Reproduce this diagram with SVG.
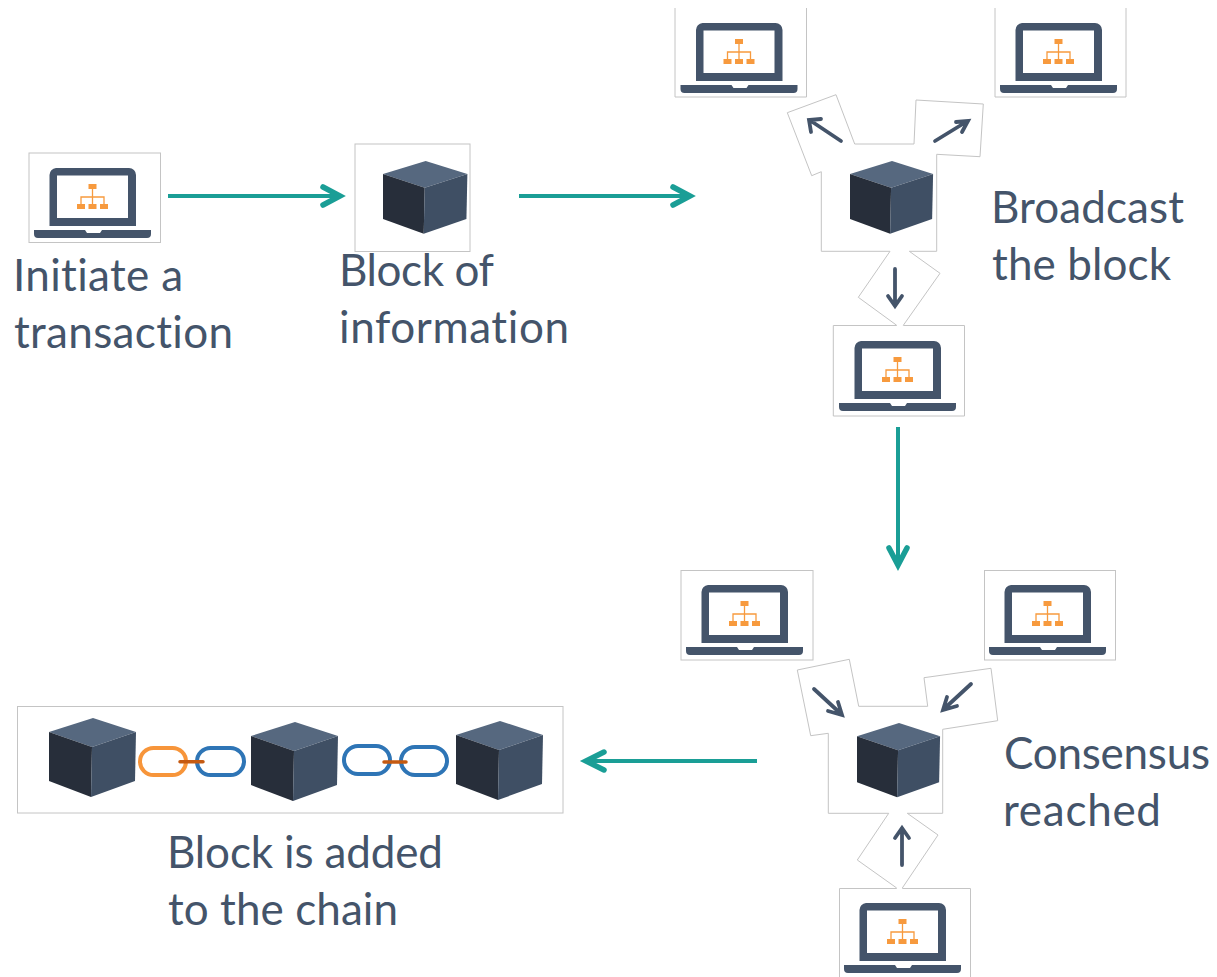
<svg xmlns="http://www.w3.org/2000/svg" xmlns:xlink="http://www.w3.org/1999/xlink" width="1217" height="977" viewBox="0 0 1217 977">
<style>
.frame{fill:none;stroke:#c4c4c4;stroke-width:1}
.flow{fill:none;stroke:#1a9e96;stroke-width:4}
.head{fill:none;stroke:#1a9e96;stroke-width:5.500;stroke-linecap:round;stroke-linejoin:miter}
.mini{fill:none;stroke:#44546a;stroke-width:3.800;stroke-linecap:round;stroke-linejoin:miter}
.lbl{font-family:"Lato","Open Sans",sans-serif;font-size:44px;font-variant-ligatures:none;fill:#44546a}
.link{fill:none;stroke-width:4}
</style>
<defs>
<g id="laptop">
<path d="M27 15H100a7 7 0 0 1 7 7V73H20.500V22a7 7 0 0 1 6.500-7ZM28 22.500V65H99V22.500Z" fill="#44546a" fill-rule="evenodd"/>
<path d="M5 77H56L58 80H71L73 77H122V81a4 4 0 0 1-4 4H9a4 4 0 0 1-4-4Z" fill="#44546a"/>
<g fill="#f79a3e"><rect x="59.500" y="31" width="8" height="5"/><rect x="48" y="51" width="8" height="5"/><rect x="59.500" y="51" width="8" height="5"/><rect x="71" y="51" width="8" height="5"/></g>
<path d="M63.500 36V51M52 51V44H75V51" fill="none" stroke="#f79a3e" stroke-width="1.300"/>
</g>
<g id="cube">
<polygon points="44,0 87,14 43,29 0,14" fill="#56687f"/>
<polygon points="0,14 43,29 42,79 0,63" fill="#272e3a"/>
<polygon points="87,14 86,63 42,79 43,29" fill="#3f4f64"/>
</g>
</defs>
<rect width="1217" height="977" fill="#fff"/>
<g id="connectors">
<path class="flow" d="M168 196H338"/><path class="head" d="M323 187L340 196L323 205"/>
<path class="flow" d="M519 196H688"/><path class="head" d="M673 187L690 196L673 205"/>
<path class="flow" d="M898 427V563"/><path class="head" d="M889 548L898 565L907 548"/>
<path class="flow" d="M757 761H590"/><path class="head" d="M604 752L586 761L604 770"/>
<path class="mini" d="M841 141L811 121M811 132L809 120L821 119"/>
<path class="mini" d="M935 141L966 122M956 122L968 121L962 132"/>
<path class="mini" d="M895 269V304M888 296L895 306L902 296"/>
<path class="mini" d="M814 689L840 713M828 711L842 715L838 702"/>
<path class="mini" d="M971 684L945 708M957 706L943 710L947 697"/>
<path class="mini" d="M902 865V830M895 838L902 828L909 838"/>
</g>
<g id="node-initiate"><rect class="frame" x="29" y="153" width="131.500" height="89.500"/><use xlink:href="#laptop" href="#laptop" x="29" y="153"/><text class="lbl" x="13" y="291" textLength="170">Initiate a</text><text class="lbl" x="14" y="348" textLength="219">transaction</text></g>
<g id="node-block"><rect class="frame" x="355" y="144" width="115" height="107.500"/><use href="#cube" transform="translate(383 161) scale(.97 .92)"/><text class="lbl" x="339" y="286" textLength="155">Block of</text><text class="lbl" x="339" y="343" textLength="230">information</text></g>
<g id="node-peer-top-left"><path class="frame" d="M675 8V97H806.500V8"/><use href="#laptop" x="675.500" y="8"/></g>
<g id="node-peer-top-right"><path class="frame" d="M995 8V97H1126V8"/><use href="#laptop" x="995" y="8"/></g>
<g id="node-broadcast"><path class="frame" d="M854.700 144H914L916 100L983.300 104L980 156.700L936.700 154.300V251.300H909.300L940 273.300L903.300 325.300M896.700 325.300L858.300 297.300L890 251.300H821.300V171.700L811.700 175.700L787.300 112.700L836 94.700L854.700 144"/><use href="#cube" transform="translate(850 161) scale(.955 .92)"/><text class="lbl" x="991" y="223" textLength="193">Broadcast</text><text class="lbl" x="992" y="280" textLength="179">the block</text></g>
<g id="node-peer-middle"><path class="frame" d="M896.700 325.500H833.300V416H964.500V325.500H903.300"/><use href="#laptop" x="834" y="326"/></g>
<g id="node-peer-bottom-left"><rect class="frame" x="681" y="570.500" width="132" height="89.500"/><use href="#laptop" x="681" y="570"/></g>
<g id="node-peer-bottom-right"><rect class="frame" x="984.500" y="570.500" width="131" height="89.500"/><use href="#laptop" x="984" y="570"/></g>
<g id="node-consensus"><path class="frame" d="M858.700 706.300H927.700L924 677.700L991 668.300L997.700 720.700L942.700 729.300V813.300H907.300L938 835L902.300 888M896.700 888L857.300 860L888.700 813.300H828.300V733.300L810.700 735.700L797.300 670L849.300 659.300L858.700 706.300"/><use href="#cube" transform="translate(857 723) scale(.955 .94)"/><text class="lbl" x="1004" y="769" textLength="206">Consensus</text><text class="lbl" x="1003" y="826" textLength="158">reached</text></g>
<g id="node-peer-bottom"><path class="frame" d="M896.700 888.500H839.500V977M970.500 977V888.500H902.300"/><use href="#laptop" x="839" y="888"/></g>
<g id="node-chain"><rect class="frame" x="17.500" y="706.500" width="545.500" height="106.500"/>
<use href="#cube" transform="translate(49 718)"/>
<use href="#cube" transform="translate(251 722)"/>
<use href="#cube" transform="translate(456 721)"/>
<rect class="link" x="140" y="748" width="46" height="27" rx="13.500" stroke="#f7953a"/>
<rect class="link" x="197" y="748" width="47" height="27" rx="13.500" stroke="#2e75b6"/>
<rect class="link" x="344" y="746" width="46" height="28" rx="14" stroke="#2e75b6"/>
<rect class="link" x="401" y="747" width="46" height="28" rx="14" stroke="#2e75b6"/>
<path d="M180 761.700H203M384 762H406" stroke="#c55a11" stroke-width="3.500" stroke-linecap="round"/>
<text class="lbl" x="167" y="868" textLength="276">Block is added</text><text class="lbl" x="168" y="925" textLength="230">to the chain</text></g>
</svg>
